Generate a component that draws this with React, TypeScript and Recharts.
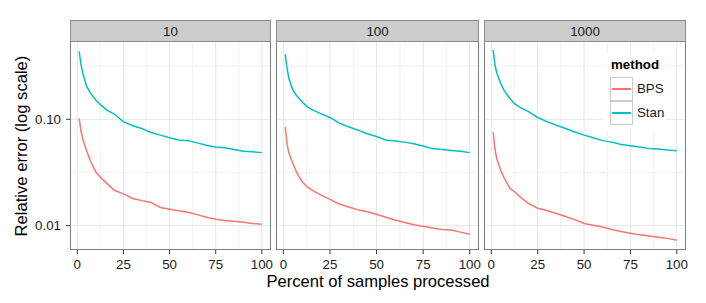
import React from 'react'
import { LineChart, Line, XAxis, YAxis, CartesianGrid } from 'recharts'

const pct = [1, 2, 3, 5, 7, 10, 13, 16, 20, 25, 30, 35, 40, 45, 50, 55, 60, 65, 70, 75, 80, 85, 90, 95, 100]

const facetLabels = ['10', '100', '1000']

// relative error, facet "10"
const bps10 = [0.102, 0.078, 0.065, 0.051, 0.041, 0.032, 0.028, 0.025, 0.0215, 0.0199, 0.018, 0.0172, 0.0165, 0.0148, 0.0143, 0.0138, 0.0134, 0.0127, 0.012, 0.0115, 0.0112, 0.011, 0.0108, 0.0105, 0.0103]
const stan10 = [0.435, 0.33, 0.27, 0.205, 0.178, 0.152, 0.135, 0.122, 0.112, 0.095, 0.087, 0.082, 0.075, 0.071, 0.067, 0.064, 0.063, 0.06, 0.057, 0.055, 0.054, 0.052, 0.05, 0.0495, 0.0486]
// facet "100"
const bps100 = [0.085, 0.058, 0.048, 0.039, 0.032, 0.026, 0.023, 0.0212, 0.0195, 0.0177, 0.016, 0.015, 0.0141, 0.0135, 0.0128, 0.012, 0.0113, 0.0107, 0.0102, 0.0099, 0.0095, 0.0092, 0.0091, 0.0087, 0.0083]
const stan100 = [0.408, 0.3, 0.24, 0.19, 0.168, 0.146, 0.13, 0.122, 0.113, 0.104, 0.092, 0.085, 0.079, 0.073, 0.069, 0.064, 0.0625, 0.061, 0.059, 0.056, 0.053, 0.052, 0.051, 0.05, 0.0486]
// facet "1000"
const bps1000 = [0.0755, 0.052, 0.042, 0.0334, 0.028, 0.0225, 0.0205, 0.0183, 0.0162, 0.0146, 0.0139, 0.013, 0.0122, 0.0114, 0.0105, 0.0101, 0.0097, 0.0092, 0.0088, 0.0085, 0.0082, 0.008, 0.0078, 0.0076, 0.0073]
const stan1000 = [0.448, 0.32, 0.27, 0.218, 0.185, 0.157, 0.138, 0.128, 0.118, 0.104, 0.095, 0.088, 0.082, 0.076, 0.071, 0.067, 0.063, 0.061, 0.058, 0.0565, 0.055, 0.053, 0.0526, 0.0515, 0.0507]

const xTicks = [0, 25, 50, 75, 100]
const xMinor = [12.5, 37.5, 62.5, 87.5]
const yTicks = [0.01, 0.1]
const yMinor = [0.0316, 0.316]

const BPS_COLOR = '#F8766D'
const STAN_COLOR = '#00BFC4'
const FONT = '"Liberation Sans", Arial, sans-serif'

const series = [
  { bps: bps10, stan: stan10 },
  { bps: bps100, stan: stan100 },
  { bps: bps1000, stan: stan1000 },
]

// panel plot areas in page px
const panels = [
  { left: 70, right: 271 },
  { left: 276, right: 479 },
  { left: 484, right: 686 },
]
const TOP = 41
const BOTTOM = 250
const X_AXIS_H = 30
const Y_AXIS_W = 70
const PAD_R = 14

const tickStyle = { fontSize: 13.3, fill: '#1a1a1a', fontFamily: FONT }

function Panel({ idx }: { idx: number }) {
  const p = panels[idx]
  const s = series[idx]
  const data = pct.map((x, i) => ({ x, BPS: s.bps[i], Stan: s.stan[i] }))
  const showY = idx === 0
  const plotW = p.right - p.left
  const plotH = BOTTOM - TOP
  const width = plotW + PAD_R + (showY ? Y_AXIS_W : 0)
  return (
    <div style={{ position: 'absolute', left: showY ? p.left - Y_AXIS_W : p.left, top: TOP }}>
      <LineChart width={width} height={plotH + X_AXIS_H} data={data} margin={{ top: 0, right: PAD_R, left: 0, bottom: 0 }}>
        <CartesianGrid stroke="#F4F4F4" strokeWidth={1.4} horizontalValues={yMinor} verticalValues={xMinor} />
        <CartesianGrid stroke="#E6E6E6" strokeWidth={1} horizontalValues={yTicks} verticalValues={xTicks} />
        <XAxis
          dataKey="x"
          type="number"
          domain={[-3.95, 104.95]}
          allowDataOverflow
          ticks={xTicks}
          height={X_AXIS_H}
          axisLine={false}
          tickLine={{ stroke: '#333', strokeWidth: 1 }}
          tickSize={4}
          tickMargin={6}
          tick={tickStyle}
          interval={0}
        />
        <YAxis
          scale="log"
          type="number"
          domain={[0.00591, 0.544]}
          allowDataOverflow
          ticks={yTicks}
          hide={!showY}
          width={showY ? Y_AXIS_W : 0}
          axisLine={false}
          tickLine={{ stroke: '#333', strokeWidth: 1 }}
          tickSize={4}
          tickMargin={5}
          tick={tickStyle}
          tickFormatter={(v: number) => v.toFixed(2)}
          interval={0}
        />
        <Line type="linear" dataKey="Stan" stroke={STAN_COLOR} strokeWidth={1.5} dot={false} isAnimationActive={false} />
        <Line type="linear" dataKey="BPS" stroke={BPS_COLOR} strokeWidth={1.5} dot={false} isAnimationActive={false} />
      </LineChart>
      <div
        style={{
          position: 'absolute', left: showY ? Y_AXIS_W : 0, top: 0, width: plotW, height: plotH,
          border: '1px solid #7F7F7F', boxSizing: 'border-box', pointerEvents: 'none',
        }}
      />
    </div>
  )
}

function Strip({ idx }: { idx: number }) {
  const p = panels[idx]
  return (
    <div
      style={{
        position: 'absolute', left: p.left, top: 20, width: p.right - p.left, height: 22,
        background: '#CCCCCC', border: '1px solid #8C8C8C', boxSizing: 'border-box',
        display: 'flex', alignItems: 'center', justifyContent: 'center',
        fontSize: 13.3, color: '#1a1a1a', fontFamily: FONT,
      }}
    >
      {facetLabels[idx]}
    </div>
  )
}

function LegendBox() {
  const items = [
    { name: 'BPS', color: BPS_COLOR },
    { name: 'Stan', color: STAN_COLOR },
  ]
  return (
    <div style={{ position: 'absolute', left: 603, top: 54, width: 64, height: 76, background: '#fff', fontFamily: FONT }}>
      <div style={{ position: 'absolute', left: 8, top: 4, fontSize: 13.3, fontWeight: 'bold', color: '#000', lineHeight: '14px' }}>method</div>
      {items.map((it, i) => (
        <div key={it.name} style={{ position: 'absolute', left: 7, top: 23 + i * 24, height: 24 }}>
          <div style={{ position: 'absolute', left: 0, top: 0, width: 23, height: 24, border: '1.5px solid #CCCCCC', boxSizing: 'border-box', background: '#fff' }}>
            <div style={{ position: 'absolute', left: 1, right: 1, top: 10, height: 1.5, background: it.color }} />
          </div>
          <div style={{ position: 'absolute', left: 27, top: 4, fontSize: 13.3, color: '#1a1a1a', lineHeight: '16px', whiteSpace: 'nowrap' }}>{it.name}</div>
        </div>
      ))}
    </div>
  )
}

export default function App() {
  return (
    <div style={{ position: 'absolute', left: 0, top: 0, width: 706, height: 303, background: '#fff', overflow: 'hidden', fontFamily: FONT }}>
      {[0, 1, 2].map(i => <Panel key={i} idx={i} />)}
      {[0, 1, 2].map(i => <Strip key={i} idx={i} />)}
      <LegendBox />
      <div
        style={{
          position: 'absolute', left: 22 - 130, top: 146 - 10, width: 260, height: 20, lineHeight: '20px',
          textAlign: 'center', fontSize: 16.6, color: '#000', transform: 'rotate(-90deg)',
        }}
      >
        Relative error (log scale)
      </div>
      <div
        style={{
          position: 'absolute', left: 378 - 150, top: 274, width: 300, lineHeight: 1,
          textAlign: 'center', fontSize: 16.6, color: '#000',
        }}
      >
        Percent of samples processed
      </div>
    </div>
  )
}
